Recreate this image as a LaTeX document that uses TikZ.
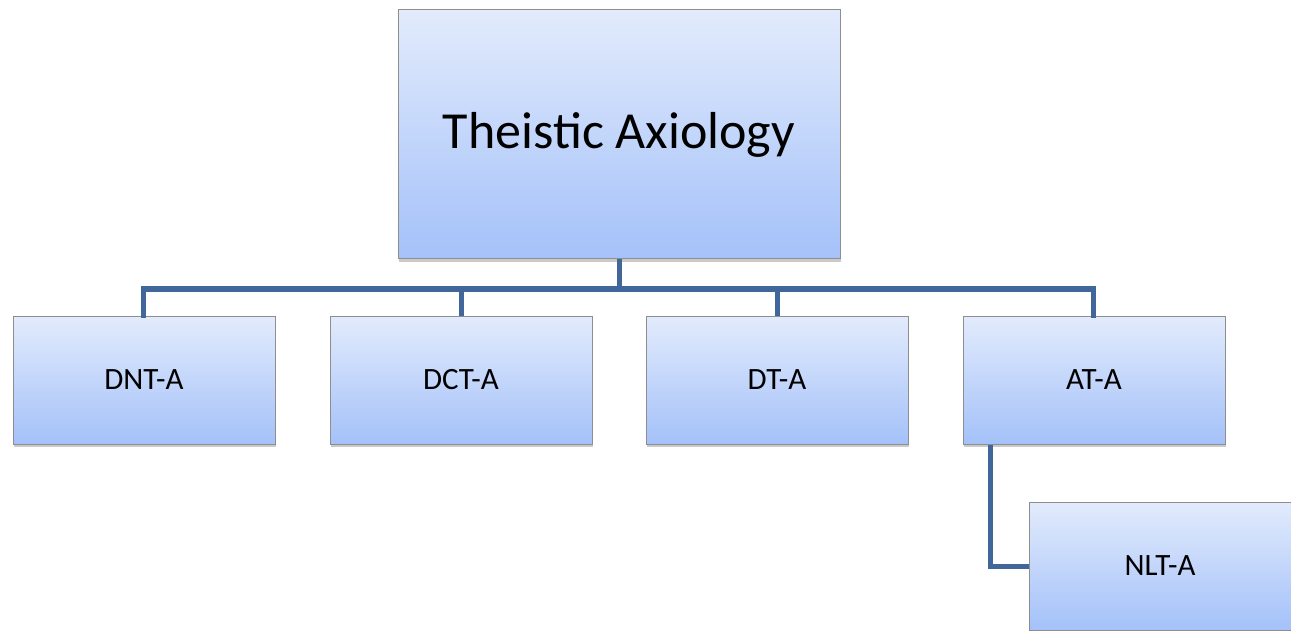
\documentclass[tikz,border=0pt]{standalone}
\usepackage{fontspec}
\setmainfont{Carlito}
\usetikzlibrary{shadows}
\definecolor{boxtop}{HTML}{E2EBFC}
\definecolor{boxbot}{HTML}{A4C1F9}
\definecolor{boxline}{HTML}{8E8E8E}
\definecolor{conn}{HTML}{41679A}
\tikzset{
  box/.style={draw=boxline, line width=1pt, top color=boxtop, bottom color=boxbot,
    minimum width=262pt, minimum height=128pt, inner sep=0pt,
    drop shadow={shadow xshift=1pt, shadow yshift=-3pt, opacity=0.35, fill=black!60}},
  small/.style={font=\fontsize{31}{36}\selectfont},
  conn/.style={draw=conn, line width=5pt, line cap=rect},
}
\begin{document}
\begin{tikzpicture}[x=1pt, y=-1pt]
\useasboundingbox (0,0) rectangle (1291,631);
\coordinate (busL) at (143,289);
\coordinate (busR) at (1093,289);
\node[box, minimum width=442pt, minimum height=249pt, font=\fontsize{52}{58}\selectfont] (top) at (619,134.5) {Theistic Axiology};
\node[box, small] (dnt) at (144,380) {DNT-A};
\node[box, small] (dct) at (461,380) {DCT-A};
\node[box, small] (dt) at (777,380) {DT-A};
\node[box, small] (at) at (1094,380) {AT-A};
\draw[conn, line cap=butt] (top.south) -- (619,289);
\draw[conn, line join=miter] (dnt.north -| busL) -- (busL) -- (busR) -- (at.north -| busR);
\draw[conn, line cap=butt] (dct.north) -- (dct.north |- busL);
\draw[conn, line cap=butt] (dt.north) -- (dt.north |- busL);
\coordinate (elbow) at (990,566);
\node[box, small] (nlt) at (1160,566) {NLT-A};
\draw[conn, line join=miter, line cap=butt] (at.south -| elbow) -- (elbow) -- (nlt.west);
\end{tikzpicture}
\end{document}
